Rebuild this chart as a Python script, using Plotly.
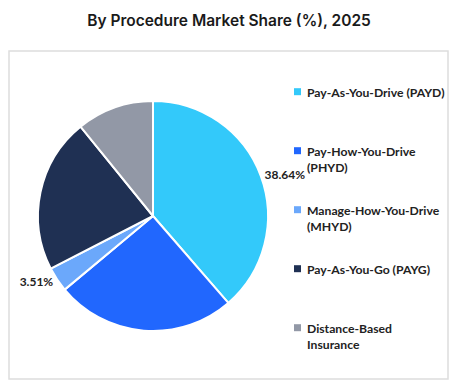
import plotly.graph_objects as go

# ---- data ----
categories = [
    "Pay-As-You-Drive (PAYD)",
    "Pay-How-You-Drive (PHYD)",
    "Manage-How-You-Drive (MHYD)",
    "Pay-As-You-Go (PAYG)",
    "Distance-Based Insurance",
]
legend_labels = [
    "Pay-As-You-Drive (PAYD)",
    "Pay-How-You-Drive<br>(PHYD)",
    "Manage-How-You-Drive<br>(MHYD)",
    "Pay-As-You-Go (PAYG)",
    "Distance-Based<br>Insurance",
]
shares = [38.64, 25.30, 3.51, 21.70, 10.85]
shown_labels = ["38.64%", "", "3.51%", "", ""]
colors = ["#33C9FA", "#2167FE", "#6BA8FB", "#1F3053", "#9298A6"]

W, H = 458, 387


def px_x(x):
    return x / W


def px_y(y):
    return 1 - y / H


fig = go.Figure()
fig.add_trace(go.Pie(
    labels=categories,
    values=shares,
    text=shown_labels,
    textinfo="text",
    textposition="outside",
    sort=False,
    direction="clockwise",
    rotation=0,
    marker=dict(colors=colors, line=dict(color="white", width=2)),
    textfont=dict(family="Lato", size=12, color="#222222", weight="bold"),
    domain=dict(x=[px_x(38), px_x(268)], y=[px_y(331), px_y(101)]),
    showlegend=False,
    hoverinfo="label+percent",
))

shapes = [
    dict(type="rect", xref="paper", yref="paper",
         x0=px_x(9), x1=px_x(448), y0=px_y(379), y1=px_y(51),
         line=dict(color="#DDDDDD", width=1.5), fillcolor="rgba(0,0,0,0)",
         layer="below"),
]
annotations = []
leg_x = 294
leg_y0 = 91.7
leg_step = 59
for i, (lab, col) in enumerate(zip(legend_labels, colors)):
    cy = leg_y0 + i * leg_step
    shapes.append(dict(type="rect", xref="paper", yref="paper",
                       x0=px_x(leg_x), x1=px_x(leg_x + 7),
                       y0=px_y(cy + 3.5), y1=px_y(cy - 3.5),
                       line=dict(width=0), fillcolor=col))
    annotations.append(dict(
        x=px_x(leg_x + 11), y=px_y(cy - 9), xref="paper", yref="paper",
        xanchor="left", yanchor="top", align="left", showarrow=False,
        text=lab,
        font=dict(family="Lato", size=12.2, color="#222222", weight="bold"),
    ))

fig.update_layout(
    width=W, height=H, autosize=False,
    margin=dict(l=0, r=0, t=0, b=0),
    paper_bgcolor="white", plot_bgcolor="white",
    title=dict(text="By Procedure Market Share (%), 2025",
               x=0.5, xanchor="center", y=px_y(21), yanchor="middle",
               font=dict(family="Inter", size=15.5, color="#1A1A1A", weight=600)),
    shapes=shapes,
    annotations=annotations,
)

fig.write_html(
    "out.html",
    config={"displayModeBar": False},
    post_script="document.body.style.margin='0';document.body.style.padding='0';document.body.style.overflow='hidden';",
)
